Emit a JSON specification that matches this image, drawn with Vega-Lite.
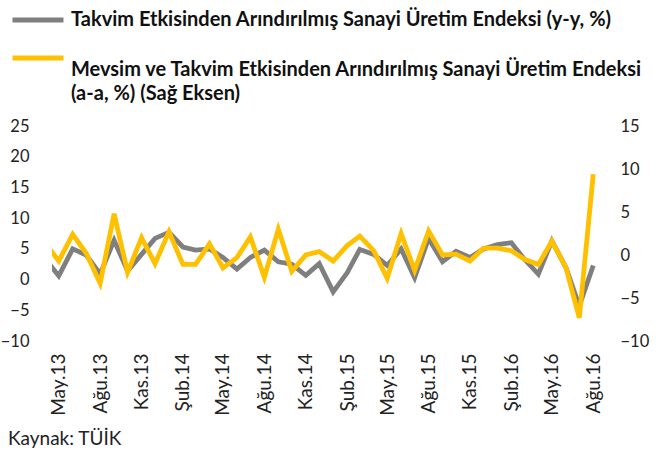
{
  "$schema": "https://vega.github.io/schema/vega-lite/v6.json",
  "width": 548,
  "height": 215,
  "autosize": {"type": "none"},
  "padding": {"left": 52, "top": 126, "right": 68, "bottom": 112},
  "background": "white",
  "config": {
    "view": {"stroke": null},
    "font": "Lato",
    "axis": {"grid": false, "domain": false, "ticks": false, "labelFont": "Lato", "labelFontSize": 16.5, "labelColor": "#222222", "labelOverlap": false}
  },
  "title": {
    "text": "Kaynak: TÜİK",
    "orient": "bottom",
    "anchor": "start",
    "frame": "group",
    "dx": -44,
    "offset": 15,
    "font": "Lato",
    "fontSize": 19,
    "fontWeight": "normal",
    "color": "#222222"
  },
  "data": {
    "values": [
      {"date": "2013-04-01", "yy": 3.4, "aa": 1.4},
      {"date": "2013-05-01", "yy": 0.6, "aa": -0.7},
      {"date": "2013-06-01", "yy": 5.0, "aa": 2.4},
      {"date": "2013-07-01", "yy": 4.0, "aa": 0.2},
      {"date": "2013-08-01", "yy": 0.9, "aa": -3.3},
      {"date": "2013-09-01", "yy": 6.4, "aa": 4.8},
      {"date": "2013-10-01", "yy": 1.4, "aa": -2.0},
      {"date": "2013-11-01", "yy": 4.1, "aa": 2.0},
      {"date": "2013-12-01", "yy": 6.7, "aa": -1.0},
      {"date": "2014-01-01", "yy": 7.7, "aa": 2.7},
      {"date": "2014-02-01", "yy": 5.3, "aa": -1.1},
      {"date": "2014-03-01", "yy": 4.8, "aa": -1.1},
      {"date": "2014-04-01", "yy": 5.0, "aa": 1.3},
      {"date": "2014-05-01", "yy": 3.6, "aa": -1.5},
      {"date": "2014-06-01", "yy": 1.7, "aa": -0.3},
      {"date": "2014-07-01", "yy": 3.6, "aa": 2.1},
      {"date": "2014-08-01", "yy": 4.8, "aa": -2.6},
      {"date": "2014-09-01", "yy": 2.9, "aa": 3.0},
      {"date": "2014-10-01", "yy": 2.5, "aa": -1.9},
      {"date": "2014-11-01", "yy": 0.7, "aa": 0.0},
      {"date": "2014-12-01", "yy": 2.6, "aa": 0.4},
      {"date": "2015-01-01", "yy": -2.0, "aa": -0.7},
      {"date": "2015-02-01", "yy": 1.1, "aa": 1.1},
      {"date": "2015-03-01", "yy": 4.9, "aa": 2.2},
      {"date": "2015-04-01", "yy": 4.1, "aa": 0.5},
      {"date": "2015-05-01", "yy": 2.3, "aa": -2.7},
      {"date": "2015-06-01", "yy": 5.0, "aa": 2.5},
      {"date": "2015-07-01", "yy": 0.3, "aa": -1.8},
      {"date": "2015-08-01", "yy": 6.7, "aa": 2.8},
      {"date": "2015-09-01", "yy": 2.9, "aa": 0.0},
      {"date": "2015-10-01", "yy": 4.6, "aa": 0.1},
      {"date": "2015-11-01", "yy": 3.6, "aa": -0.7},
      {"date": "2015-12-01", "yy": 5.0, "aa": 0.8},
      {"date": "2016-01-01", "yy": 5.7, "aa": 0.8},
      {"date": "2016-02-01", "yy": 6.0, "aa": 0.5},
      {"date": "2016-03-01", "yy": 3.3, "aa": -0.5},
      {"date": "2016-04-01", "yy": 0.9, "aa": -1.1},
      {"date": "2016-05-01", "yy": 6.3, "aa": 1.6},
      {"date": "2016-06-01", "yy": 2.0, "aa": -1.4},
      {"date": "2016-07-01", "yy": -4.3, "aa": -7.3},
      {"date": "2016-08-01", "yy": 2.3, "aa": 9.4}
    ]
  },
  "encoding": {
    "x": {
      "field": "date",
      "type": "temporal",
      "title": null,
      "scale": {
        "type": "utc",
        "domain": [
          {"year": 2013, "month": 4, "date": 16, "utc": true},
          {"year": 2016, "month": 8, "date": 16, "utc": true}
        ]
      },
      "axis": {
        "labelAngle": -90,
        "labelPadding": 12,
        "labelFontSize": 19,
        "values": [
          {"year": 2013, "month": 5, "date": 1, "utc": true},
          {"year": 2013, "month": 8, "date": 1, "utc": true},
          {"year": 2013, "month": 11, "date": 1, "utc": true},
          {"year": 2014, "month": 2, "date": 1, "utc": true},
          {"year": 2014, "month": 5, "date": 1, "utc": true},
          {"year": 2014, "month": 8, "date": 1, "utc": true},
          {"year": 2014, "month": 11, "date": 1, "utc": true},
          {"year": 2015, "month": 2, "date": 1, "utc": true},
          {"year": 2015, "month": 5, "date": 1, "utc": true},
          {"year": 2015, "month": 8, "date": 1, "utc": true},
          {"year": 2015, "month": 11, "date": 1, "utc": true},
          {"year": 2016, "month": 2, "date": 1, "utc": true},
          {"year": 2016, "month": 5, "date": 1, "utc": true},
          {"year": 2016, "month": 8, "date": 1, "utc": true}
        ],
        "labelExpr": "['Oca','Şub','Mar','Nis','May','Haz','Tem','Ağu','Eyl','Eki','Kas','Ara'][utcmonth(datum.value)] + '.' + utcFormat(datum.value, '%y')"
      }
    }
  },
  "layer": [
    {
      "layer": [
        {
          "mark": {"type": "rule", "color": "#d9d9d9", "strokeWidth": 2},
          "encoding": {
            "y": {
              "datum": 0,
              "type": "quantitative",
              "title": null,
              "scale": {"domain": [-10, 25], "nice": false, "zero": false},
              "axis": {"orient": "left", "values": [-10, -5, 0, 5, 10, 15, 20, 25], "labelPadding": 23, "labelOverlap": false}
            }
          }
        },
        {
          "mark": {"type": "line", "strokeWidth": 4.8, "clip": true, "strokeJoin": "miter"},
          "encoding": {
            "y": {
              "field": "yy",
              "type": "quantitative",
              "title": null,
              "scale": {"domain": [-10, 25], "nice": false, "zero": false},
              "axis": {"orient": "left", "values": [-10, -5, 0, 5, 10, 15, 20, 25], "labelPadding": 23, "labelOverlap": false}
            },
            "color": {
              "datum": "Takvim Etkisinden Arındırılmış Sanayi Üretim Endeksi (y-y, %)",
              "type": "nominal",
              "scale": {
                "domain": ["Takvim Etkisinden Arındırılmış Sanayi Üretim Endeksi (y-y, %)", "Mevsim ve Takvim Etkisinden Arındırılmış Sanayi Üretim Endeksi"],
                "range": ["#7f7f7f", "#ffc000"]
              },
              "legend": {
                "title": null,
                "orient": "none",
                "legendX": -42,
                "legendY": -134,
                "padding": 0,
                "direction": "vertical",
                "symbolType": "stroke",
                "symbolSize": 2600,
                "symbolStrokeWidth": 4.8,
                "labelFont": "Lato",
                "labelFontSize": 20,
                "labelFontWeight": "bold",
                "labelColor": "#111111",
                "labelLimit": 700,
                "labelOffset": 5,
                "rowPadding": 0,
                "labelExpr": "datum.label == 'Mevsim ve Takvim Etkisinden Arındırılmış Sanayi Üretim Endeksi' ? ['Mevsim ve Takvim Etkisinden Arındırılmış Sanayi Üretim Endeksi', '(a-a, %) (Sağ Eksen)'] : datum.label",
                "encode": {
                  "labels": {
                    "update": {
                      "lineHeight": {"value": 24},
                      "dy": {"signal": "datum.index === 1 ? 12 : 0"}
                    }
                  }
                }
              }
            }
          }
        }
      ]
    },
    {
      "mark": {"type": "line", "strokeWidth": 4.8, "clip": true, "strokeJoin": "miter"},
      "encoding": {
        "y": {
          "field": "aa",
          "type": "quantitative",
          "title": null,
          "scale": {"domain": [-10, 15], "nice": false, "zero": false},
          "axis": {"orient": "right", "values": [-10, -5, 0, 5, 10, 15], "labelPadding": 20, "labelOverlap": false}
        },
        "color": {
          "datum": "Mevsim ve Takvim Etkisinden Arındırılmış Sanayi Üretim Endeksi",
          "type": "nominal"
        }
      }
    }
  ],
  "resolve": {"scale": {"y": "independent"}}
}
